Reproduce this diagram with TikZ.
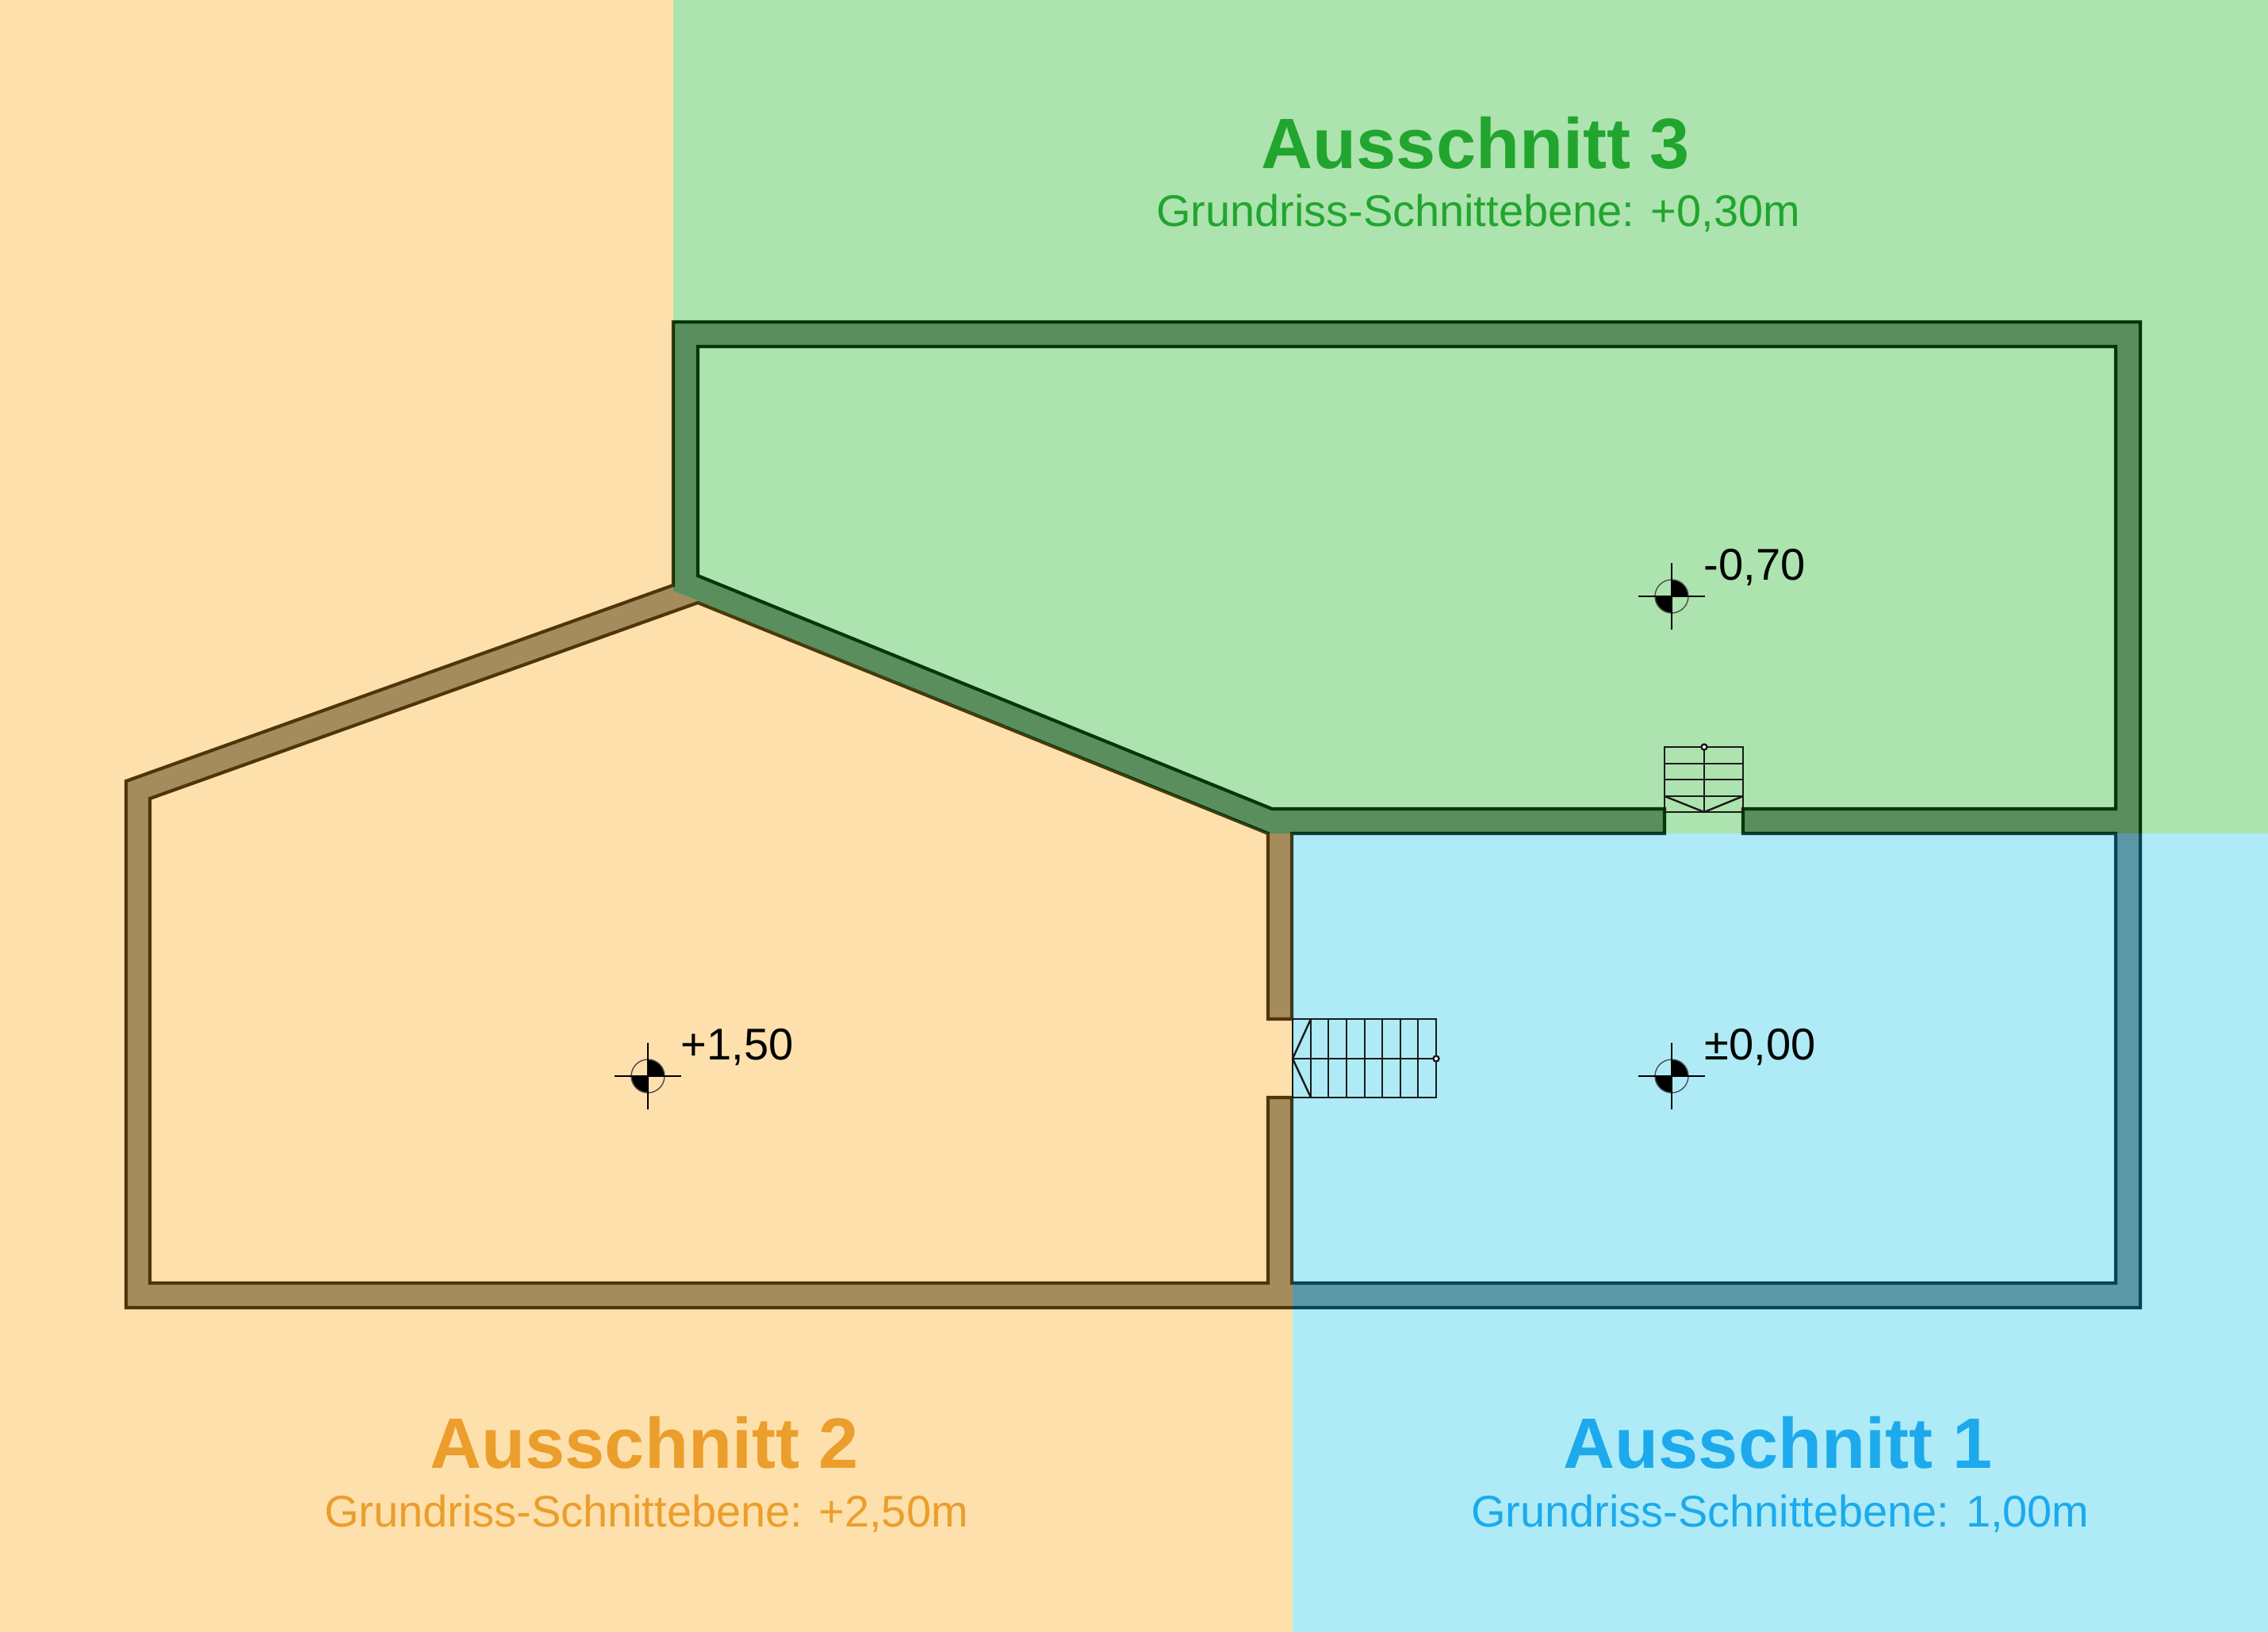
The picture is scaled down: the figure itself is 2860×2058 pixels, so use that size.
\documentclass[tikz,border=0pt]{standalone}
\usepackage{fontspec}
\setmainfont{Liberation Sans}
\definecolor{bgO}{HTML}{FDE0AC}
\definecolor{bgG}{HTML}{ADE3AE}
\definecolor{bgB}{HTML}{AEEBF6}
\definecolor{wallO}{HTML}{A58C5C}
\definecolor{wallG}{HTML}{5A8E5C}
\definecolor{wallB}{HTML}{5A98A8}
\definecolor{lineO}{HTML}{4F3608}
\definecolor{lineG}{HTML}{02380A}
\definecolor{lineB}{HTML}{0A4256}
\definecolor{txtO}{HTML}{EB9E2C}
\definecolor{txtG}{HTML}{21A52F}
\definecolor{txtB}{HTML}{1CAAEC}
\definecolor{stair}{HTML}{1A1A1A}
\newcommand{\wallpath}{
  (849,406) -- (2699,406) -- (2699,1649) -- (159,1649) -- (159,985) -- (849,738) -- cycle
  (880,437) -- (2668,437) -- (2668,1020) -- (2198,1020) -- (2198,1051) -- (2668,1051)
  -- (2668,1618) -- (1629,1618) -- (1629,1384) -- (1599,1384) -- (1599,1618) -- (189,1618)
  -- (189,1007) -- (880,760) -- (1599,1051) -- (1599,1285) -- (1629,1285) -- (1629,1051)
  -- (2099,1051) -- (2099,1020) -- (1604,1020) -- (880,726) -- cycle}
\newcommand{\zoneG}{(849,0) -- (2860,0) -- (2860,1051) -- (1599,1051) -- (849,745) -- cycle}
\newcommand{\zoneB}{(1630,1051) -- (2860,1051) -- (2860,2058) -- (1630,2058) -- cycle}
\tikzset{
  wall/.style={even odd rule, line width=4.2*0.01cm, line join=miter},
  stairline/.style={draw=stair, line width=2.4*0.01cm},
  markline/.style={draw=black, line width=2*0.01cm},
  levelmark/.style={font=\fontsize{15.95pt}{18pt}\selectfont, anchor=base west, inner sep=0pt, text=black},
  titletext/.style={font=\fontsize{25.6pt}{30pt}\selectfont\bfseries, anchor=base, inner sep=0pt},
  subtext/.style={font=\fontsize{15.9pt}{18pt}\selectfont, anchor=base, inner sep=0pt}
}
\newcommand{\levelsym}[1]{
  \begin{scope}[shift={(#1)}]
    \begin{scope}
      \clip (0,0) rectangle (25,-25) (0,0) rectangle (-25,25);
      \fill[black] (0,0) circle (21);
    \end{scope}
    \draw[draw=black!70, line width=1.4*0.01cm] (0,0) circle (21);
    \draw[markline] (-42,0) -- (42,0);
    \draw[markline] (0,-42) -- (0,42);
  \end{scope}
}
\begin{document}
\begin{tikzpicture}[x=0.01cm,y=-0.01cm]
\useasboundingbox (0,0) rectangle (2860,2058);
\fill[bgO] (0,0) rectangle (2860,2058);
\fill[bgG] \zoneG;
\fill[bgB] \zoneB;
% walls, one outline tinted per zone
\begin{scope}
  \clip (0,0) -- (849,0) -- (849,745) -- (1599,1051) -- (1630,1051) -- (1630,2058) -- (0,2058) -- cycle;
  \filldraw[wall, fill=wallO, draw=lineO] \wallpath;
\end{scope}
\begin{scope}
  \clip \zoneG;
  \filldraw[wall, fill=wallG, draw=lineG] \wallpath;
\end{scope}
\begin{scope}
  \clip \zoneB;
  \filldraw[wall, fill=wallB, draw=lineB] \wallpath;
\end{scope}
% stair 1 (left opening)
\draw[stairline] (1630,1285) rectangle (1811,1384);
\draw[stairline] (1630,1335) -- (1811,1335);
\foreach \x in {1653,1675,1698,1721,1743,1766,1788} \draw[stairline] (\x,1285) -- (\x,1384);
\draw[stairline] (1653,1285) -- (1630,1335) -- (1653,1384);
\draw[stairline, fill=white] (1811,1335) circle (3.5);
% stair 2 (top opening)
\draw[stairline] (2099,942) rectangle (2198,1024);
\draw[stairline] (2149,942) -- (2149,1024);
\foreach \y in {963,983,1004} \draw[stairline] (2099,\y) -- (2198,\y);
\draw[stairline] (2099,1004) -- (2149,1024) -- (2198,1004);
\draw[stairline, fill=white] (2149,942) circle (3.5);
% level symbols
\levelsym{2108,752}
\levelsym{2108,1357}
\levelsym{817,1357}
\node[levelmark] (l1) at (2148,731) {-0,70};
\node[levelmark] (l2) at (2149,1336) {±0,00};
\node[levelmark] (l3) at (858,1336) {+1,50};
% titles
\node[titletext, text=txtG] (t3) at (1861,213) {Ausschnitt 3};
\node[subtext, text=txtG] (s3) at (1864,286) {Grundriss-Schnittebene: +0,30m};
\node[titletext, text=txtO] (t2) at (813,1851) {Ausschnitt 2};
\node[subtext, text=txtO] (s2) at (815,1925) {Grundriss-Schnittebene: +2,50m};
\node[titletext, text=txtB] (t1) at (2242,1851) {Ausschnitt 1};
\node[subtext, text=txtB] (s1) at (2245,1925) {Grundriss-Schnittebene: 1,00m};
\end{tikzpicture}
\end{document}
